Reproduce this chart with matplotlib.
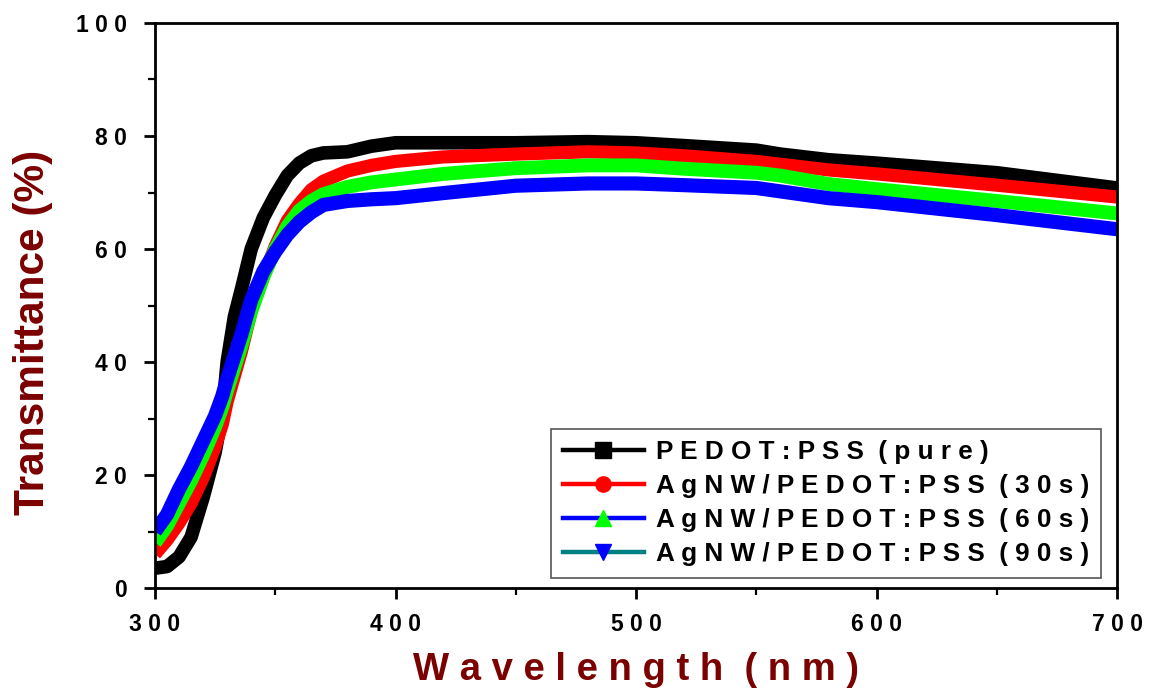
import matplotlib
matplotlib.use("Agg")
import matplotlib.pyplot as plt
from matplotlib.lines import Line2D
from matplotlib.ticker import MultipleLocator

# Wavelength grid (nm) and transmittance (%) of each film
wavelength = [300, 305, 310, 315, 320, 325, 328, 330, 333, 336, 340, 345, 350, 355,
              360, 365, 370, 380, 390, 400, 420, 450, 480, 500, 520, 550, 560, 580,
              600, 650, 700]
pure = [3.5, 3.8, 5.5, 9.0, 16.0, 24.0, 31.0, 40.0, 48.0, 53.0, 60.0, 65.5, 69.5, 73.0,
        75.2, 76.5, 77.0, 77.2, 78.2, 78.8, 78.8, 78.8, 79.0, 78.8, 78.3, 77.5, 76.8, 75.8,
        75.2, 73.5, 70.8]
agnw_30s = [6.0, 8.5, 11.5, 15.0, 19.5, 25.0, 29.0, 33.0, 37.5, 42.0, 49.0, 55.0, 60.5, 65.0,
            68.0, 70.5, 72.0, 73.8, 74.8, 75.5, 76.3, 76.8, 77.2, 77.0, 76.5, 75.5, 75.0, 74.0,
            73.3, 71.3, 69.2]
agnw_60s = [8.0, 11.0, 15.0, 19.0, 23.5, 28.5, 32.0, 35.0, 39.0, 43.0, 49.0, 55.0, 60.0, 64.0,
            66.8, 68.5, 69.7, 71.0, 71.8, 72.3, 73.3, 74.3, 74.8, 74.8, 74.2, 73.5, 73.0, 71.5,
            70.6, 68.5, 66.3]
agnw_90s = [10.0, 13.0, 17.5, 21.5, 26.0, 30.5, 34.0, 37.0, 41.0, 45.0, 51.0, 56.0, 59.5, 62.5,
            64.8, 66.5, 67.8, 68.5, 68.8, 69.0, 69.9, 71.2, 71.6, 71.6, 71.3, 70.8, 70.2, 69.0,
            68.3, 66.0, 63.5]

labels = ["PEDOT:PSS (pure)", "AgNW/PEDOT:PSS (30s)",
          "AgNW/PEDOT:PSS (60s)", "AgNW/PEDOT:PSS (90s)"]
x_ticks = [300, 400, 500, 600, 700]
y_ticks = [0, 20, 40, 60, 80, 100]

series = [pure, agnw_30s, agnw_60s, agnw_90s]
band_colors = ["#000000", "#ff0000", "#00ff00", "#0000ff"]
line_colors = ["#000000", "#ff0000", "#0000ff", "#008080"]
marker_colors = ["#000000", "#ff0000", "#00ff00", "#0000ff"]
markers = ["s", "o", "^", "v"]
band_widths = [9.8, 9.5, 10.0, 10.2]

TITLE_RED = "#7b0000"
FONT = "Liberation Sans"


def spaced(text):
    return " ".join(text)


fig = plt.figure(figsize=(11.56, 6.96), dpi=100)
ax = fig.add_axes([155 / 1156, 1 - 588 / 696, 962 / 1156, 565 / 696])

for vals, c, lw in zip(series, band_colors, band_widths):
    ax.plot(wavelength, vals, color=c, lw=lw, solid_capstyle="butt",
            solid_joinstyle="round")

ax.set_xlim(300, 700)
ax.set_ylim(0, 100)

ax.set_xticks(x_ticks)
ax.set_xticklabels([spaced(str(v)) for v in x_ticks])
ax.set_yticks(y_ticks)
ax.set_yticklabels([spaced(str(v)) for v in y_ticks])
ax.xaxis.set_minor_locator(MultipleLocator(50))
ax.yaxis.set_minor_locator(MultipleLocator(10))

ax.tick_params(which="major", direction="out", length=8, width=2,
               labelsize=16.5, pad=10)
ax.tick_params(which="minor", direction="out", length=5, width=1.6)
for lab in ax.get_xticklabels() + ax.get_yticklabels():
    lab.set_fontfamily(FONT)
    lab.set_fontweight("bold")
ax.tick_params(axis="y", pad=12)

for sp in ax.spines.values():
    sp.set_linewidth(2.0)

ax.set_xlabel(spaced("Wavelength") + "  " + spaced("(nm)"),
              fontsize=27.5, fontweight="bold", color=TITLE_RED,
              fontfamily=FONT)
ax.xaxis.set_label_coords(0.5, -0.113)
ax.set_ylabel("Transmittance (%)", fontsize=30.5, fontweight="bold",
              color=TITLE_RED, fontfamily=FONT)
ax.yaxis.set_label_coords(-0.106, 0.453)

handles = [Line2D([], [], color=lc, lw=3.2, marker=m, markersize=11,
                  markerfacecolor=mc, markeredgecolor=mc)
           for lc, mc, m in zip(line_colors, marker_colors, markers)]
leg = ax.legend(handles, [spaced(l).replace("   ", "  ") for l in labels],
                loc="lower right", bbox_to_anchor=(0.983, 0.018),
                borderaxespad=0, fancybox=False, framealpha=1,
                edgecolor="#555555", handlelength=3.1, handletextpad=0.45,
                labelspacing=0.38, borderpad=0.45,
                prop={"family": FONT, "weight": "bold", "size": 18.8})
leg.get_frame().set_linewidth(1.2)

fig.savefig("out.png", dpi=100, facecolor="white")
